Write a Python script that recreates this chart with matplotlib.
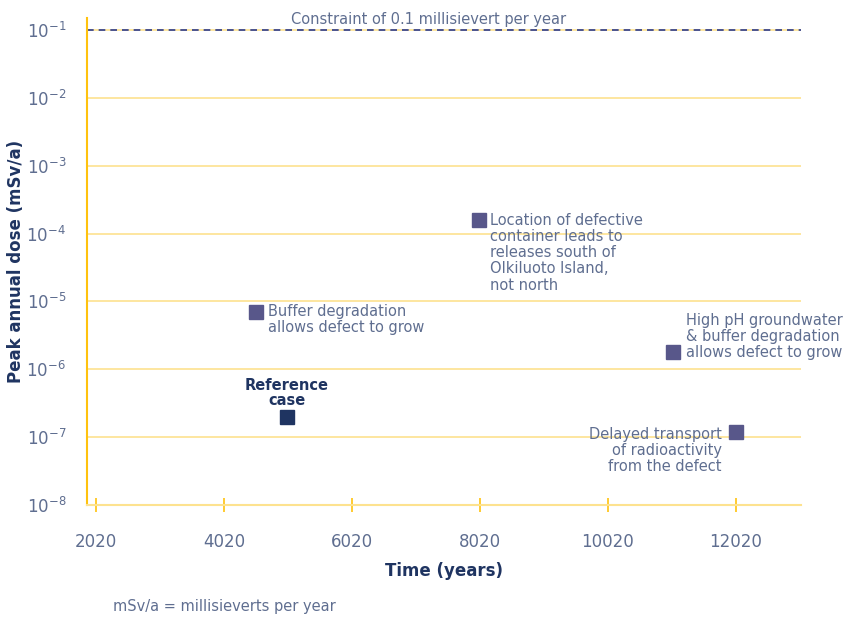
import matplotlib
matplotlib.use('Agg')
from matplotlib import pyplot as plt

# scenario data
labels = ['Reference\ncase',
          'Buffer degradation\nallows defect to grow',
          'Location of defective\ncontainer leads to\nreleases south of\nOlkiluoto Island,\nnot north',
          'High pH groundwater\n& buffer degradation\nallows defect to grow',
          'Delayed transport\nof radioactivity\nfrom the defect']
years = [5000, 4520, 8000, 11040, 12020]
doses = [2.0e-7, 7.0e-6, 1.6e-4, 1.8e-6, 1.2e-7]
xticks = [2020, 4020, 6020, 8020, 10020, 12020]
yticks = [1e-8, 1e-7, 1e-6, 1e-5, 1e-4, 1e-3, 1e-2, 1e-1]
ytick_labels = ['$10^{-8}$', '$10^{-7}$', '$10^{-6}$', '$10^{-5}$',
                '$10^{-4}$', '$10^{-3}$', '$10^{-2}$', '$10^{-1}$']
constraint = 0.1

text_col = '#5f6e90'
navy = '#1f3461'
marker_col = '#58578a'
grid_col = '#fde28f'
spine_col = '#ffc20e'

plt.rcParams['font.family'] = 'DejaVu Sans'
plt.rcParams['mathtext.fontset'] = 'dejavusans'

fig = plt.figure(figsize=(8.43, 6.18), dpi=100)
ax = fig.add_axes([0.1032, 0.1828, 0.847, 0.788])

ax.set_yscale('log')
ax.set_ylim(1e-8, 0.15)
ax.set_xlim(1880, 13040)

# grid lines at each decade
for y in yticks[1:]:
    ax.axhline(y, color=grid_col, lw=1.2, zorder=1)
ax.axhline(constraint, color='#2b3a8c', lw=1.2, ls=(0, (4, 3)), zorder=2)
ax.annotate('Constraint of 0.1 millisievert per year', xy=(0.478, constraint),
            xycoords=('axes fraction', 'data'), xytext=(0, 2), textcoords='offset points',
            ha='center', va='bottom', fontsize=10.5, color=text_col)

for sp in ['top', 'right']:
    ax.spines[sp].set_visible(False)
ax.spines['left'].set_color(spine_col)
ax.spines['left'].set_linewidth(1.5)
ax.spines['bottom'].set_color(grid_col)
ax.spines['bottom'].set_linewidth(1.5)

ax.set_xticks(xticks)
ax.set_xticklabels([str(x) for x in xticks])
ax.set_yticks(yticks)
ax.set_yticklabels(ytick_labels)
ax.minorticks_off()
ax.tick_params(axis='x', direction='inout', length=10, width=1.2, color=spine_col,
               labelsize=12, labelcolor=text_col, pad=15)
ax.tick_params(axis='y', length=0, labelsize=12, labelcolor=text_col, pad=15)

# markers
ax.plot(years[0], doses[0], 's', ms=9.5, color=navy, zorder=3)
ax.plot(years[1:], doses[1:], 's', ls='none', ms=9.5, color=marker_col, zorder=3)

# annotations
ax.annotate(labels[0], xy=(years[0], doses[0]), xytext=(0, 6), textcoords='offset points',
            ha='center', va='bottom', fontsize=10.5, fontweight='bold', color=navy,
            multialignment='center', linespacing=1.05)
ax.annotate(labels[1], xy=(years[1], doses[1]), xytext=(8.5, 6), textcoords='offset points',
            ha='left', va='top', fontsize=10.5, color=text_col, linespacing=1.12)
ax.annotate(labels[2], xy=(years[2], doses[2]), xytext=(8.5, 5), textcoords='offset points',
            ha='left', va='top', fontsize=10.5, color=text_col, linespacing=1.1)
ax.annotate(labels[3], xy=(years[3], doses[3]), xytext=(9, 11), textcoords='offset points',
            ha='left', va='center', fontsize=10.5, color=text_col, linespacing=1.08)
ax.annotate(labels[4], xy=(years[4], doses[4]), xytext=(-10, 3.5), textcoords='offset points',
            ha='right', va='top', fontsize=10.5, color=text_col, linespacing=1.08,
            multialignment='right')

ax.set_xlabel('Time (years)', fontsize=12, fontweight='bold', color=navy, labelpad=8)
ax.set_ylabel('Peak annual dose (mSv/a)', fontsize=12, fontweight='bold', color=navy, labelpad=1)

fig.text(113 / 843, 1 - 607 / 618, 'mSv/a = millisieverts per year', fontsize=10.5,
         color=text_col, ha='left', va='center')

fig.savefig('out.png', dpi=100)
